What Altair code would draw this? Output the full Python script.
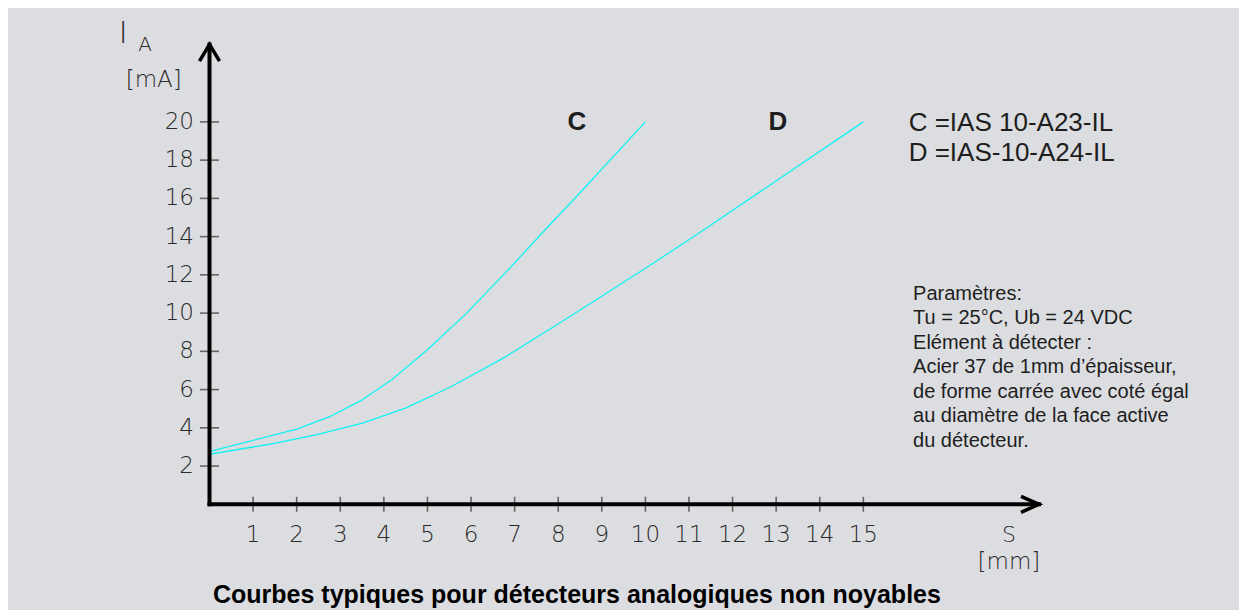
import altair as alt
import pandas as pd

# ---- data ----
S_TICKS = list(range(1, 16))
I_TICKS = [2, 4, 6, 8, 10, 12, 14, 16, 18, 20]

C_S = [0.03, 2.0, 2.76, 3.47, 4.18, 5.0, 5.9, 6.82, 7.7, 8.42, 10.0]
C_I = [2.78, 3.93, 4.58, 5.42, 6.51, 8.08, 10.0, 12.18, 14.36, 16.1, 20.0]

D_S = [0.03, 1.37, 2.44, 3.51, 4.51, 5.55, 6.78, 8.27, 10.1, 11.24, 15.0]
D_I = [2.63, 3.14, 3.63, 4.24, 5.04, 6.16, 7.7, 9.82, 12.49, 14.2, 20.0]

LEGEND_LINES = ["C =IAS 10-A23-IL", "D =IAS-10-A24-IL"]
PARAM_LINES = [
    "Paramètres:",
    "Tu = 25°C, Ub = 24 VDC",
    "Elément à détecter :",
    "Acier 37 de 1mm d’épaisseur,",
    "de forme carrée avec coté égal",
    "au diamètre de la face active",
    "du détecteur.",
]
TITLE = "Courbes typiques pour détecteurs analogiques non noyables"

X_AXIS_END = 19.03
Y_AXIS_END = 24.05

# ---- styling ----
BG = "#dcdde0"
INK = "#1e1e1e"
CAD_FONT = "DejaVu Sans"
TXT_FONT = "Liberation Sans"
CURVE_COLOR = "#10f4f4"

xs = alt.Scale(domain=[0, 19.5], nice=False, zero=False)
ys = alt.Scale(domain=[0, 25], nice=False, zero=False)


def XD(v):
    return alt.XDatum(v, type="quantitative", scale=xs, axis=None)


def YD(v):
    return alt.YDatum(v, type="quantitative", scale=ys, axis=None)


curves = pd.DataFrame(
    {
        "s": C_S + D_S,
        "i": C_I + D_I,
        "serie": ["C"] * len(C_S) + ["D"] * len(D_S),
    }
)

lines = alt.Chart(curves).mark_line(color=CURVE_COLOR, strokeWidth=1.3).encode(
    x=alt.X("s:Q", scale=xs, axis=None),
    y=alt.Y("i:Q", scale=ys, axis=None),
    detail="serie:N",
)

base = alt.Chart(pd.DataFrame({"k": [0]}))

y_axis_line = base.mark_rule(color="black", strokeWidth=4, strokeCap="square").encode(
    x=XD(0), y=YD(0), y2=alt.Y2Datum(Y_AXIS_END)
)
x_axis_line = base.mark_rule(color="black", strokeWidth=4, strokeCap="square").encode(
    x=XD(0), x2=alt.X2Datum(X_AXIS_END), y=YD(0)
)
up_arrow = base.mark_point(
    shape="M-1,1.67L0,0L1,1.67", size=400, filled=False, stroke="black",
    strokeWidth=3.5, opacity=1, strokeJoin="miter",
).encode(x=XD(0), y=YD(Y_AXIS_END))
right_arrow = base.mark_point(
    shape="M-2.25,-1L0,0L-2.25,1", size=256, filled=False, stroke="black",
    strokeWidth=3.5, opacity=1, strokeJoin="miter",
).encode(x=XD(X_AXIS_END), y=YD(0))

ydf = pd.DataFrame({"i": I_TICKS})
xdf = pd.DataFrame({"s": S_TICKS})

y_ticks = alt.Chart(ydf).mark_tick(orient="horizontal", size=19, thickness=1.6, color="#333").encode(
    x=XD(0), y=alt.Y("i:Q", scale=ys, axis=None)
)
y_labels = alt.Chart(ydf).mark_text(
    align="right", baseline="middle", dx=-15.5, font=CAD_FONT, fontWeight=200,
    fontSize=23, color="#2a2a2a",
).encode(x=XD(0), y=alt.Y("i:Q", scale=ys, axis=None), text="i:Q")

x_ticks = alt.Chart(xdf).mark_tick(orient="vertical", size=15, thickness=1.6, color="#333").encode(
    x=alt.X("s:Q", scale=xs, axis=None), y=YD(0)
)
x_labels = alt.Chart(xdf).mark_text(
    align="center", baseline="middle", dy=31, font=CAD_FONT, fontWeight=200,
    fontSize=23, color="#2a2a2a",
).encode(x=alt.X("s:Q", scale=xs, axis=None), y=YD(0), text="s:Q")


def label(txt, x, y, size, font=CAD_FONT, weight=200, align="center", baseline="middle", color=INK):
    return base.mark_text(
        text=txt, font=font, fontWeight=weight, fontSize=size, color=color,
        align=align, baseline=baseline,
    ).encode(x=XD(x), y=YD(y))


texts = [
    label("I", -1.98, 24.6, 30, color="#2a2a2a"),
    label("A", -1.48, 24.0, 20, color="#2a2a2a"),
    label("[mA]", -1.28, 22.17, 23, color="#2a2a2a"),
    label("S", 18.34, -1.63, 22, color="#2a2a2a"),
    label("[mm]", 18.34, -3.01, 23, color="#2a2a2a"),
    label("C", 8.43, 20.0, 26, TXT_FONT, "bold"),
    label("D", 13.04, 20.0, 26, TXT_FONT, "bold"),
    label(TITLE, 0.08, -5.16, 25, TXT_FONT, "bold", align="left", baseline="alphabetic", color="black"),
]
for k, t in enumerate(LEGEND_LINES):
    texts.append(label(t, 16.04, 19.94 - k * 1.57, 26, TXT_FONT, "normal", align="left"))
for k, t in enumerate(PARAM_LINES):
    texts.append(label(t, 16.14, 11.0 - k * 1.281, 20, TXT_FONT, "normal", align="left"))

chart = alt.layer(
    lines, y_ticks, x_ticks, y_labels, x_labels,
    y_axis_line, x_axis_line, up_arrow, right_arrow, *texts
).properties(
    width=850,
    height=478,
    padding={"left": 201.5, "top": 18.3, "right": 179.5, "bottom": 105.7},
    autosize=alt.AutoSizeParams(type="none"),
    background=BG,
).configure_view(stroke=None)

chart.save("out.html", embed_options={"renderer": "svg", "actions": False})
